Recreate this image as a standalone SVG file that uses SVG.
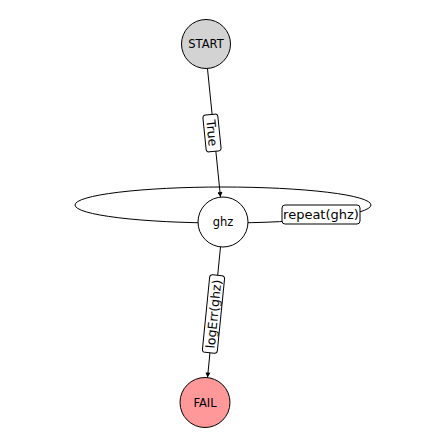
<svg xmlns="http://www.w3.org/2000/svg" width="446" height="446" viewBox="0 0 446 446">
<style>
.edge{fill:none;stroke:#000;stroke-width:1}
.node{stroke:#000;stroke-width:1}
.nlabel{font-family:"DejaVu Sans",sans-serif;font-size:11.5px;text-anchor:middle;dominant-baseline:central;fill:#000}
.elabel{font-family:"DejaVu Sans",sans-serif;font-size:12.5px;text-anchor:middle;dominant-baseline:central;fill:#000}
.lbox{fill:#fff;stroke:#000;stroke-width:1}
</style>
<defs>
<marker id="arrow" viewBox="0 0 10 10" refX="10" refY="5" markerWidth="6" markerHeight="5" markerUnits="userSpaceOnUse" orient="auto">
<path d="M0,0 L10,5 L0,10 z" fill="#000"/>
</marker>
</defs>
<rect width="446" height="446" fill="#fff"/>
<g id="connectors">
<path class="edge" d="M 75 205 a 148 18 0 1 0 296 0 a 148 18 0 1 0 -296 0"/>
<line class="edge" x1="207.5" y1="68.9" x2="220.5" y2="197.1" marker-end="url(#arrow)"/>
<line class="edge" x1="220.5" y1="246.9" x2="207.5" y2="377.6" marker-end="url(#arrow)"/>
<g transform="translate(212,133) rotate(84.2)">
<rect class="lbox" x="-18.5" y="-7.5" width="37" height="15" rx="3"/>
<text class="elabel" x="0" y="0">True</text>
</g>
<g transform="translate(213.5,314) rotate(-84.3)">
<rect class="lbox" x="-39" y="-7.5" width="78" height="15" rx="3"/>
<text class="elabel" x="0" y="0">logErr(ghz)</text>
</g>
<g transform="translate(321,214.5)">
<rect class="lbox" x="-39" y="-9.5" width="78" height="19" rx="3"/>
<text class="elabel" x="0" y="0" style="font-size:13px">repeat(ghz)</text>
</g>
</g>
<g id="node-START">
<circle class="node" cx="206" cy="44" r="24.5" fill="#d3d3d3"/>
<text class="nlabel" x="206" y="44">START</text>
</g>
<g id="node-ghz">
<circle class="node" cx="223" cy="222" r="25" fill="#fff"/>
<text class="nlabel" x="223" y="222">ghz</text>
</g>
<g id="node-FAIL">
<circle class="node" cx="205" cy="402.5" r="25" fill="#ff9999"/>
<text class="nlabel" x="205" y="402.5">FAIL</text>
</g>
</svg>
